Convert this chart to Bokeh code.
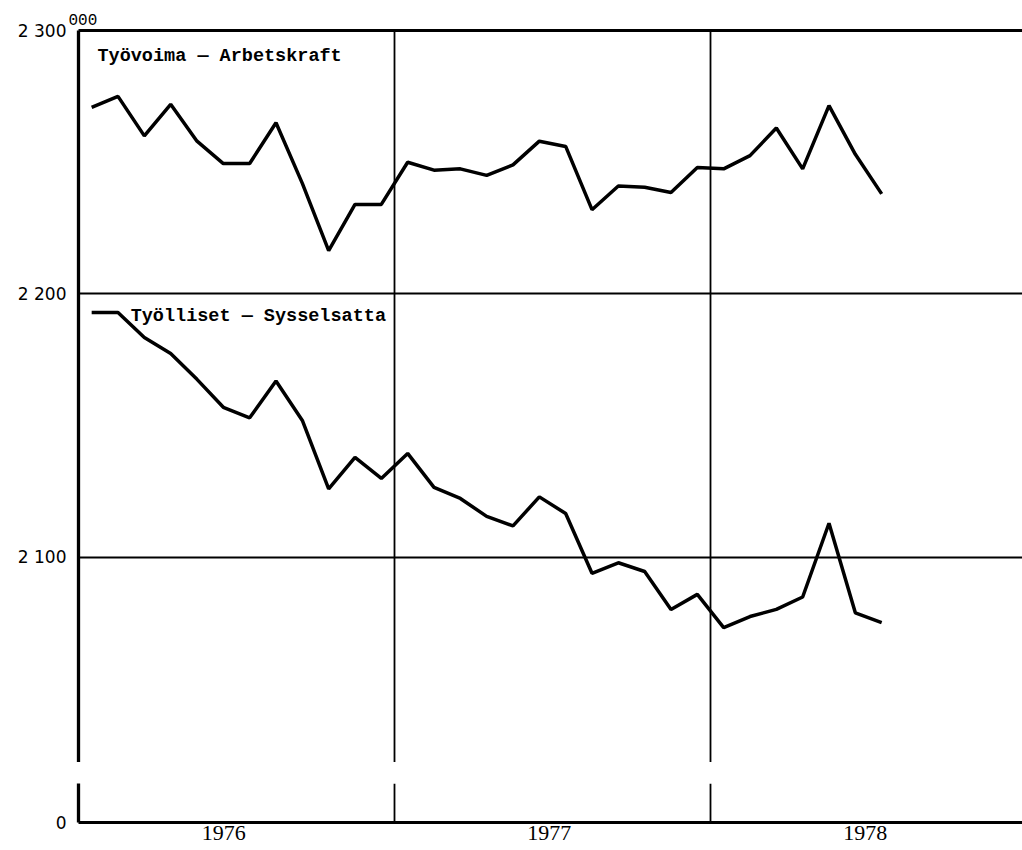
from bokeh.plotting import figure
from bokeh.layouts import column
from bokeh.models import Range1d, FixedTicker, Grid, LinearAxis, Label, ColumnDataSource, Title
from bokeh.embed import file_html
from bokeh.resources import INLINE

# ---------------- data ----------------
periods = [f"{y}-{m:02d}" for y in (1976, 1977) for m in range(1, 13)] + \
          [f"1978-{m:02d}" for m in range(1, 8)]

labour_force = [2270.8, 2275.0, 2260.0, 2272.0, 2258.0, 2249.5, 2249.5, 2265.0,
                2242.0, 2216.5, 2234.0, 2234.0,
                2250.0, 2247.0, 2247.5, 2245.0, 2249.0, 2258.0, 2256.0, 2232.0,
                2241.0, 2240.5, 2238.5, 2248.0,
                2247.5, 2252.5, 2263.0, 2247.5, 2271.5, 2253.0, 2238.0]

employed = [2193.0, 2193.0, 2183.5, 2177.4, 2167.6, 2157.0, 2153.0, 2167.0,
            2152.0, 2126.0, 2138.0, 2130.0,
            2139.5, 2126.6, 2122.4, 2115.6, 2112.0, 2123.0, 2116.7, 2094.0,
            2098.0, 2094.7, 2080.3, 2086.0,
            2073.4, 2077.6, 2080.3, 2085.0, 2113.0, 2079.0, 2075.3]

series_names = ["Työvoima — Arbetskraft", "Työlliset — Sysselsatta"]
unit_label = "000"
y_ticks = [2100, 2200, 2300]
y_tick_labels = ["2 100", "2 200", "2 300"]
zero_tick = [0]
zero_tick_label = ["0"]
year_bounds = [1977, 1978]
year_labels = ["1976", "1977", "1978"]
year_label_pos = [1976.46, 1977.49, 1978.49]

# decimal-year position of each monthly observation (mid-month)
xs = [int(p[:4]) + (int(p[5:]) - 0.5) / 12 for p in periods]
src = ColumnDataSource(dict(x=xs, lf=labour_force, emp=employed))

# ---------------- layout constants ----------------
W = 1022
LEFT = 78
PX_PER_YEAR = 316
x_range = Range1d(1976, 1976 + (W - LEFT) / PX_PER_YEAR)

GRID_W = 1.8
AXIS_W = 3.3
LINE_W = 3.5
TICK_FONT = "DejaVu Sans"

def style_common(p):
    p.outline_line_color = None
    p.background_fill_color = "white"
    p.border_fill_color = "white"

# ---------------- upper (main) panel ----------------
top = figure(width=W, height=762, x_range=x_range, y_range=Range1d(2022.2, 2300),
             output_backend="svg", toolbar_location=None,
             x_axis_location=None, min_border_left=LEFT, min_border_right=0,
             min_border_top=30, min_border_bottom=0)
style_common(top)
top.title = Title(text=unit_label, align="left", offset=-10, standoff=11,
                  text_font="Liberation Mono", text_font_size="16px",
                  text_font_style="normal", text_color="black")

ya = top.yaxis[0]
ya.ticker = FixedTicker(ticks=y_ticks)
ya.major_label_overrides = dict(zip(y_ticks, y_tick_labels))
ya.major_tick_line_color = None
ya.minor_tick_line_color = None
ya.major_tick_out = 0
ya.axis_line_width = AXIS_W
ya.axis_line_color = "black"
ya.major_label_standoff = 12
ya.major_label_text_font = TICK_FONT
ya.major_label_text_font_size = "17px"
ya.major_label_text_color = "black"

top_axis = LinearAxis(ticker=FixedTicker(ticks=[]), axis_line_width=3,
                      axis_line_color="black", major_tick_line_color=None,
                      minor_tick_line_color=None)
top.add_layout(top_axis, "above")

for g in top.xgrid:
    g.visible = False
top.ygrid.grid_line_color = "black"
top.ygrid.grid_line_width = GRID_W
top.add_layout(Grid(dimension=0, ticker=FixedTicker(ticks=year_bounds),
                    grid_line_color="black", grid_line_width=GRID_W))

top.line("x", "lf", source=src, line_color="black", line_width=LINE_W)
top.line("x", "emp", source=src, line_color="black", line_width=LINE_W)

top.add_layout(Label(x=1976.06, y=2290.3, text=series_names[0],
                     text_font="Liberation Mono", text_font_size="18.5px",
                     text_font_style="bold", text_baseline="middle",
                     text_color="black"))
top.add_layout(Label(x=1976.165, y=2191.5, text=series_names[1],
                     text_font="Liberation Mono", text_font_size="18.5px",
                     text_font_style="bold", text_baseline="middle",
                     text_color="black"))

# ---------------- lower (zero) panel after the axis break ----------------
bot = figure(width=W, height=88, x_range=x_range, y_range=Range1d(0, 1),
             output_backend="svg", toolbar_location=None,
             min_border_left=LEFT, min_border_right=0,
             min_border_top=21, min_border_bottom=28)
style_common(bot)

xa = bot.xaxis[0]
xa.ticker = FixedTicker(ticks=year_label_pos)
xa.major_label_overrides = dict(zip(year_label_pos, year_labels))
xa.axis_line_width = 3
xa.axis_line_color = "black"
xa.major_tick_line_color = None
xa.minor_tick_line_color = None
xa.major_tick_out = 0
xa.major_label_standoff = 3
xa.major_label_text_font = "Liberation Serif"
xa.major_label_text_font_size = "22px"
xa.major_label_text_color = "black"

yb = bot.yaxis[0]
yb.ticker = FixedTicker(ticks=zero_tick)
yb.major_label_overrides = dict(zip(zero_tick, zero_tick_label))
yb.major_tick_line_color = None
yb.minor_tick_line_color = None
yb.major_tick_out = 0
yb.axis_line_width = AXIS_W
yb.axis_line_color = "black"
yb.major_label_standoff = 12
yb.major_label_text_font = TICK_FONT
yb.major_label_text_font_size = "17px"
yb.major_label_text_color = "black"

bot.ygrid.visible = False
bot.xgrid.ticker = FixedTicker(ticks=year_bounds)
bot.xgrid.grid_line_color = "black"
bot.xgrid.grid_line_width = GRID_W

layout = column(top, bot)
open("out.html", "w").write(file_html(layout, INLINE))
